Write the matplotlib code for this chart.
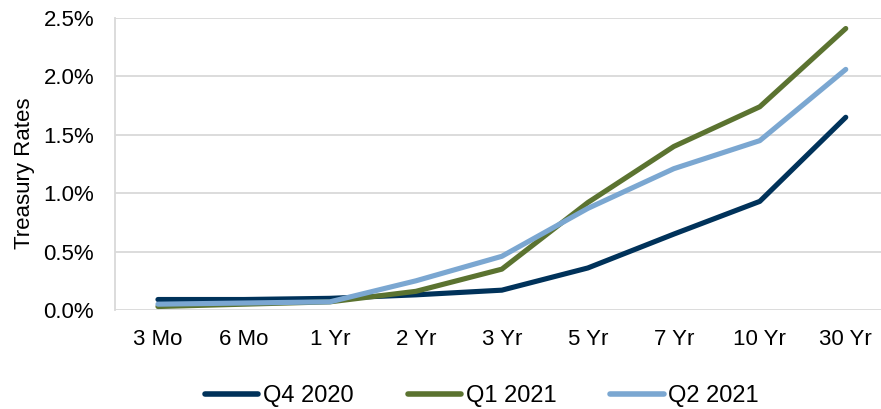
import matplotlib
matplotlib.use('Agg')
import matplotlib.pyplot as plt
from matplotlib.ticker import FuncFormatter

plt.rcParams['font.family'] = ['Liberation Sans', 'DejaVu Sans']

maturities = ['3 Mo', '6 Mo', '1 Yr', '2 Yr', '3 Yr', '5 Yr', '7 Yr', '10 Yr', '30 Yr']
q4_2020 = [0.09, 0.09, 0.10, 0.13, 0.17, 0.36, 0.65, 0.93, 1.65]
q1_2021 = [0.03, 0.05, 0.07, 0.16, 0.35, 0.92, 1.40, 1.74, 2.41]
q2_2021 = [0.05, 0.06, 0.07, 0.25, 0.46, 0.87, 1.21, 1.45, 2.06]

series = [
    ('Q4 2020', q4_2020, '#00325A'),
    ('Q1 2021', q1_2021, '#5B7330'),
    ('Q2 2021', q2_2021, '#7BA7D1'),
]

fig = plt.figure(figsize=(8.81, 4.09), dpi=100)
ax = fig.add_axes([0.1305, 0.242, 0.8695, 0.714])

x = range(len(maturities))
for name, vals, col in series:
    ax.plot(x, vals, color=col, lw=3.7, label=name, solid_capstyle='round', solid_joinstyle='round')

ax.set_xlim(-0.5, 8.41)
ax.set_ylim(0, 2.5)
ax.set_yticks([0, 0.5, 1.0, 1.5, 2.0, 2.5])
ax.yaxis.set_major_formatter(FuncFormatter(lambda v, p: f'{v:.1f}%'))
ax.set_xticks(list(x))
ax.set_xticklabels(maturities)
ax.tick_params(length=0, labelsize=16, colors='black')
ax.tick_params(axis='x', pad=14)
ax.tick_params(axis='y', pad=15)

ax.grid(axis='y', color='#D9D9D9', lw=1.3)
ax.set_axisbelow(True)
for s in ['top', 'right', 'bottom']:
    ax.spines[s].set_visible(False)
ax.spines['left'].set_color('#D9D9D9')
ax.spines['left'].set_linewidth(1.3)

ax.set_ylabel('Treasury Rates', fontsize=16)
ax.yaxis.set_label_coords(-0.104, 0.47)

leg = fig.legend(loc='center', bbox_to_anchor=(0.547, 0.032), ncol=3, frameon=False,
                 fontsize=17, handlelength=2.25, columnspacing=2.3, handletextpad=0.2,
                 borderpad=0)
for h in leg.get_lines():
    h.set_linewidth(4)

fig.savefig('out.png', dpi=100)
